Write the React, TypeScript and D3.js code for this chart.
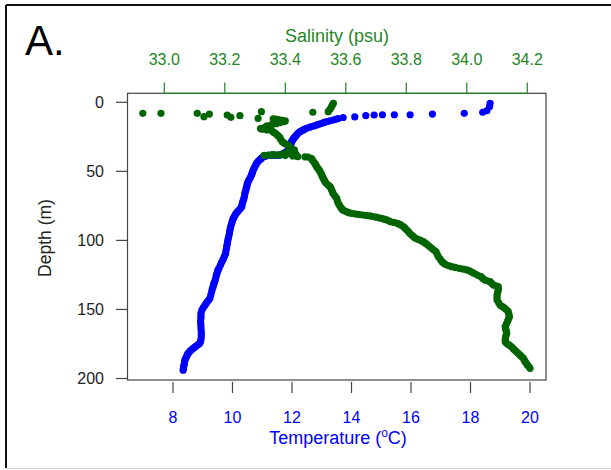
import React from "react";
import * as d3 from "d3";

// Temperature profile: [depth (m), temperature (°C)]
const temperatureProfile: [number, number][] = [
  [0.7, 18.66], [3.2, 18.64], [6.1, 18.55], [7.2, 18.41], [8.0, 17.79], [8.5, 16.72],
  [9.0, 15.97], [9.0, 15.44], [9.0, 15.04], [9.2, 14.76], [9.6, 14.48], [10.6, 14.11],
  [11.0, 13.72], [11.8, 13.55], [12.3, 13.47], [12.8, 13.39], [13.4, 13.28], [14.0, 13.17],
  [14.6, 13.08], [15.2, 13.0], [15.8, 12.92], [16.4, 12.83], [17.0, 12.75], [17.6, 12.66],
  [18.2, 12.58], [18.8, 12.49], [19.4, 12.43], [20.0, 12.38], [20.6, 12.32], [21.3, 12.27],
  [22.1, 12.22], [23.0, 12.18], [24.0, 12.14], [24.9, 12.1], [25.8, 12.07], [26.7, 12.04],
  [27.6, 12.01], [28.5, 11.99], [29.4, 11.97], [30.3, 11.96], [31.2, 11.94], [32.2, 11.93],
  [33.1, 11.9], [34.0, 11.88], [34.9, 11.85], [35.8, 11.82], [36.4, 11.77], [37.0, 11.72],
  [37.6, 11.66], [38.2, 11.6], [38.3, 11.52], [38.4, 11.45], [38.35, 11.37], [38.3, 11.3],
  [38.45, 11.22], [38.6, 11.15], [39.0, 11.1], [39.4, 11.04], [40.2, 10.99], [41.0, 10.95],
  [42.0, 10.9], [43.0, 10.85], [44.2, 10.81], [45.4, 10.78], [46.7, 10.75], [48.0, 10.72],
  [49.4, 10.69], [50.8, 10.67], [52.0, 10.65], [53.0, 10.63], [54.5, 10.6], [56.0, 10.56],
  [57.3, 10.53], [58.7, 10.5], [60.0, 10.49], [61.0, 10.48], [62.3, 10.46], [63.5, 10.45],
  [65.0, 10.43], [66.5, 10.41], [68.2, 10.4], [70.0, 10.38], [71.2, 10.36], [72.5, 10.34],
  [74.0, 10.32], [75.6, 10.31], [77.0, 10.26], [78.5, 10.2], [79.5, 10.16], [80.5, 10.12],
  [81.6, 10.09], [82.8, 10.06], [84.0, 10.03], [85.0, 10.01], [86.3, 9.99], [87.6, 9.97],
  [89.3, 9.95], [91.0, 9.93], [92.8, 9.91], [94.5, 9.9], [96.5, 9.88], [98.5, 9.86],
  [100.2, 9.84], [102.0, 9.83], [103.8, 9.81], [105.5, 9.8], [107.4, 9.78], [109.3, 9.77],
  [111.0, 9.74], [112.5, 9.71], [114.3, 9.67], [116.0, 9.63], [118.0, 9.59], [120.0, 9.55],
  [121.2, 9.52], [122.5, 9.5], [123.8, 9.48], [125.0, 9.46], [126.8, 9.44], [128.7, 9.42],
  [130.0, 9.4], [131.0, 9.38], [132.2, 9.36], [133.5, 9.35], [135.2, 9.32], [137.0, 9.3],
  [139.5, 9.27], [141.9, 9.24], [143.2, 9.2], [144.5, 9.15], [145.7, 9.11], [146.8, 9.08],
  [148.6, 9.02], [150.4, 8.97], [152.8, 8.94], [154.5, 8.94], [156.0, 8.94], [158.0, 8.93],
  [160.0, 8.93], [162.0, 8.94], [164.0, 8.94], [166.0, 8.95], [168.0, 8.95], [170.0, 8.95],
  [172.0, 8.94], [173.3, 8.92], [174.5, 8.9], [175.5, 8.84], [176.5, 8.78], [177.3, 8.73],
  [178.1, 8.68], [179.0, 8.63], [180.0, 8.58], [181.0, 8.54], [182.0, 8.5], [183.2, 8.47],
  [184.5, 8.45], [185.5, 8.42], [186.6, 8.4], [188.0, 8.39], [189.5, 8.38], [191.0, 8.36],
  [192.6, 8.35], [194.0, 8.34],
];

// Salinity profile: [depth (m), salinity (psu)]
const salinityProfile: [number, number][] = [
  [8.0, 32.929], [8.0, 32.989], [8.0, 33.109], [10.4, 33.131], [8.5, 33.149], [9.2, 33.208],
  [10.9, 33.22], [9.7, 33.25], [6.8, 33.321], [11.6, 33.31], [7.2, 33.491], [6.8, 33.542],
  [5.0, 33.548], [3.2, 33.553], [1.8, 33.556], [0.7, 33.559],
  [12.0, 33.36], [12.2, 33.368], [12.5, 33.375], [12.8, 33.383], [13.0, 33.39], [13.5, 33.4],
  [14.0, 33.395], [14.7, 33.383], [15.5, 33.37], [16.2, 33.355], [17.0, 33.34], [17.8, 33.335],
  [18.5, 33.33], [19.0, 33.318], [19.5, 33.325], [20.0, 33.34], [20.5, 33.355], [21.5, 33.36],
  [22.2, 33.365], [23.0, 33.37], [24.0, 33.375], [25.0, 33.38], [26.0, 33.383], [27.0, 33.385],
  [28.5, 33.39], [29.3, 33.395], [30.0, 33.4], [31.0, 33.41], [31.8, 33.412], [32.5, 33.415],
  [33.5, 33.42], [34.3, 33.418], [34.5, 33.43], [35.0, 33.415], [35.5, 33.43], [36.0, 33.42],
  [36.5, 33.405], [36.8, 33.43], [37.0, 33.41], [37.5, 33.39], [37.5, 33.435], [37.8, 33.36],
  [38.0, 33.38], [38.0, 33.43], [38.2, 33.37], [38.3, 33.355], [38.2, 33.345], [38.5, 33.33],
  [38.6, 33.4], [38.8, 33.425], [39.4, 33.441], [39.5, 33.465], [39.6, 33.475], [40.5, 33.485],
  [41.2, 33.488], [42.0, 33.49], [43.5, 33.495], [45.0, 33.5], [46.0, 33.502], [47.0, 33.505],
  [48.0, 33.508], [49.0, 33.512], [50.0, 33.514], [51.0, 33.517], [52.2, 33.52], [53.5, 33.522],
  [54.8, 33.525], [56.0, 33.528], [57.3, 33.531], [58.7, 33.535], [60.0, 33.542], [61.1, 33.548],
  [62.3, 33.551], [63.5, 33.553], [64.8, 33.556], [66.0, 33.558], [67.8, 33.564], [69.5, 33.57],
  [71.3, 33.572], [73.1, 33.575], [74.5, 33.579], [76.0, 33.583], [77.0, 33.587], [78.0, 33.59],
  [78.8, 33.598], [79.5, 33.605], [80.0, 33.612], [80.4, 33.618], [80.7, 33.627], [81.0, 33.635],
  [81.3, 33.645], [81.6, 33.655], [81.9, 33.667], [82.3, 33.68], [82.7, 33.69], [83.2, 33.7],
  [83.6, 33.709], [84.0, 33.718], [84.6, 33.727], [85.2, 33.735], [85.8, 33.742], [86.5, 33.748],
  [87.0, 33.759], [87.6, 33.77], [88.2, 33.776], [88.8, 33.782], [90.0, 33.79], [91.0, 33.795],
  [92.3, 33.801], [93.7, 33.807], [95.0, 33.812], [96.1, 33.818], [97.3, 33.824], [98.5, 33.83],
  [99.2, 33.838], [99.7, 33.845], [100.3, 33.85], [100.9, 33.856], [102.0, 33.863], [103.2, 33.87],
  [104.5, 33.877], [105.7, 33.884], [107.0, 33.891], [108.2, 33.898], [110.0, 33.902], [111.8, 33.906],
  [113.6, 33.912], [115.4, 33.918], [116.5, 33.924], [117.5, 33.93], [118.3, 33.94], [119.0, 33.95],
  [119.6, 33.962], [120.2, 33.975], [120.8, 33.988], [121.4, 34.0], [122.0, 34.008], [122.7, 34.015],
  [123.6, 34.022], [124.5, 34.03], [125.4, 34.038], [126.3, 34.047], [127.5, 34.053], [128.7, 34.06],
  [129.3, 34.068], [129.9, 34.077], [131.1, 34.082], [132.3, 34.088], [132.9, 34.096], [133.5, 34.104],
  [134.8, 34.104], [136.0, 34.104], [137.8, 34.102], [139.5, 34.1], [141.3, 34.1], [143.2, 34.1],
  [145.0, 34.105], [146.8, 34.11], [148.0, 34.118], [149.0, 34.125], [150.3, 34.131], [151.6, 34.137],
  [153.4, 34.139], [155.2, 34.141], [156.8, 34.138], [158.5, 34.135], [160.5, 34.131], [162.5, 34.127],
  [163.8, 34.128], [165.0, 34.13], [166.2, 34.131], [167.3, 34.132], [168.7, 34.13], [170.0, 34.128],
  [171.7, 34.127], [173.4, 34.127], [174.5, 34.132], [175.5, 34.138], [176.3, 34.143], [177.0, 34.148],
  [178.2, 34.153], [179.4, 34.158], [180.6, 34.164], [181.8, 34.17], [182.7, 34.174], [183.5, 34.178],
  [184.5, 34.183], [185.4, 34.187], [186.6, 34.19], [187.8, 34.193], [189.0, 34.197], [190.2, 34.2],
  [191.4, 34.205], [192.6, 34.209],
];

const depthTicks = [0, 50, 100, 150, 200];
const temperatureTicks = [8, 10, 12, 14, 16, 18, 20];
const salinityTicks = [33.0, 33.2, 33.4, 33.6, 33.8, 34.0, 34.2];

const FONT = "'Liberation Sans', Arial, Helvetica, sans-serif";
const BLUE = "#0000ff";
const GREEN_PT = "#006400";
const GREEN_TX = "#1f861f";
const AXIS = "#444";

export default function App() {
  const W = 611;
  const H = 470;
  const box = { left: 127.5, right: 546, top: 93.3, bottom: 380 };

  const xT = d3.scaleLinear().domain([8, 20]).range([173, 530]);
  const xS = d3.scaleLinear().domain([33.0, 34.2]).range([164.3, 527.3]);
  const y = d3.scaleLinear().domain([0, 200]).range([102.3, 378.5]);

  const r = 3.6;

  return (
    <div style={{ position: "fixed", left: 0, top: 0, width: W, height: H, background: "#fff" }}>
      <svg width={W} height={H} style={{ display: "block" }} fontFamily={FONT}>
        <rect x={0} y={0} width={W} height={H} fill="#fff" />
        {/* outer frame */}
        <line x1={6} x2={W} y1={5} y2={5} stroke="#111" strokeWidth={2} />
        <line x1={6} x2={6} y1={5} y2={468} stroke="#111" strokeWidth={2} />
        <line x1={6} x2={W} y1={468.5} y2={468.5} stroke="#cfcfcf" strokeWidth={1} />

        <text x={25} y={55} fontSize={42} fill="#000">A.</text>

        {/* points */}
        <g>
          {temperatureProfile.map(([d, t], i) => (
            <circle key={"t" + i} cx={xT(t)} cy={y(d)} r={r} fill={BLUE} />
          ))}
        </g>
        <g>
          {salinityProfile.map(([d, s], i) => (
            <circle key={"s" + i} cx={xS(s)} cy={y(d)} r={r} fill={GREEN_PT} />
          ))}
        </g>

        {/* box */}
        <rect
          x={box.left}
          y={box.top}
          width={box.right - box.left}
          height={box.bottom - box.top}
          fill="none"
          stroke={AXIS}
          strokeWidth={1.2}
        />

        {/* left axis */}
        <g>
          {depthTicks.map((d) => (
            <g key={"d" + d}>
              <line x1={116} x2={box.left} y1={y(d)} y2={y(d)} stroke={AXIS} strokeWidth={1.2} />
              <text x={104} y={y(d) + 5.7} fontSize={16} textAnchor="end" fill="#222">
                {d}
              </text>
            </g>
          ))}
          <text
            transform={`translate(51,238) rotate(-90)`}
            fontSize={17.5}
            textAnchor="middle"
            fill="#222"
          >
            Depth (m)
          </text>
        </g>

        {/* bottom axis (temperature) */}
        <g>
          {temperatureTicks.map((t) => (
            <g key={"t" + t}>
              <line x1={xT(t)} x2={xT(t)} y1={382} y2={393} stroke={AXIS} strokeWidth={1.2} />
              <text x={xT(t)} y={423} fontSize={16} textAnchor="middle" fill={BLUE}>
                {t}
              </text>
            </g>
          ))}
          <text x={338} y={444} fontSize={18} textAnchor="middle" fill={BLUE}>
            Temperature (
            <tspan fontSize={12} dy={-7}>o</tspan>
            <tspan dy={7}>C)</tspan>
          </text>
        </g>

        {/* top axis (salinity) */}
        <g>
          <line
            x1={xS(33.0)}
            x2={xS(34.2)}
            y1={box.top}
            y2={box.top}
            stroke={GREEN_TX}
            strokeWidth={1.2}
          />
          {salinityTicks.map((s) => (
            <g key={"s" + s}>
              <line x1={xS(s)} x2={xS(s)} y1={82.5} y2={box.top} stroke={GREEN_TX} strokeWidth={1.2} />
              <text x={xS(s)} y={65} fontSize={16} textAnchor="middle" fill={GREEN_TX}>
                {s.toFixed(1)}
              </text>
            </g>
          ))}
          <text x={337} y={41.5} fontSize={18} textAnchor="middle" fill={GREEN_TX}>
            Salinity (psu)
          </text>
        </g>
      </svg>
    </div>
  );
}
